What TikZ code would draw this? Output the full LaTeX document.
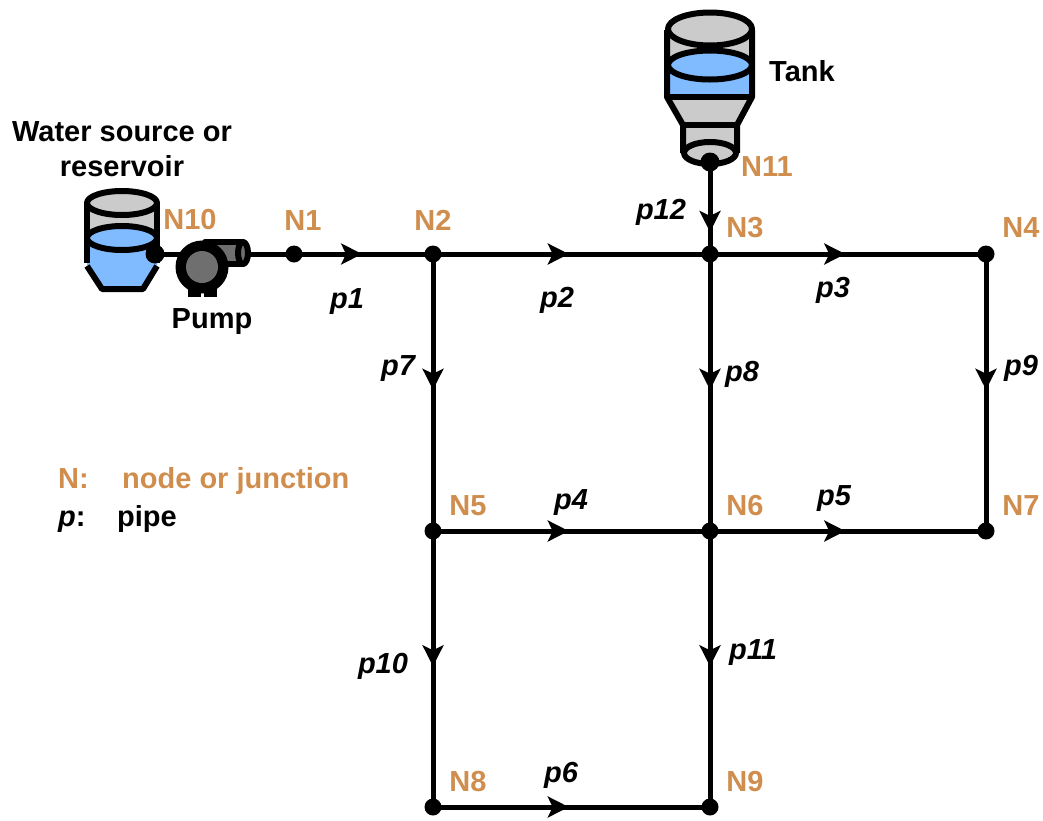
\documentclass[tikz,border=0pt]{standalone}
\usepackage{fontspec}
\setmainfont{Liberation Sans}
\usetikzlibrary{arrows.meta,decorations.markings}
\definecolor{nodetext}{HTML}{D08E4E}
\definecolor{water}{HTML}{80BBFF}
\definecolor{shell}{HTML}{CBCBCB}
\definecolor{casing}{HTML}{6F6F6F}
\tikzset{
  edge/.style={draw=black, line width=5pt},
  route/.style={edge, postaction={decorate}, decoration={markings,
    mark=at position #1 with {\arrow{Stealth[length=21pt,width=21pt,inset=5pt]}}}},
  pt/.style={circle, fill=black, inner sep=0pt, minimum size=17pt},
  vessel/.style={draw=black, line width=6pt, line join=round},
  lab/.style={text=nodetext, font=\fontsize{29}{34}\selectfont\bfseries},
  pipelab/.style={text=black, font=\fontsize{29}{34}\selectfont\bfseries\itshape},
  note/.style={text=black, font=\fontsize{29}{34}\selectfont\bfseries}
}
\begin{document}
\begin{tikzpicture}[x=1pt,y=-1pt]
  \useasboundingbox (0,0) rectangle (1043,820);

  % tank
  \fill[shell] (667,30) -- (667,97) -- (683,125) -- (683,153) -- (737,153) -- (737,125) -- (752,97) -- (752,30) -- cycle;
  \fill[water] (667,65) -- (667,97) -- (752,97) -- (752,65) -- cycle;
  \draw[vessel, fill=water] (710,65) ellipse[x radius=42, y radius=14.5];
  \draw[vessel, fill=shell] (710,29) ellipse[x radius=42, y radius=16.5];
  \draw[vessel] (667,30) -- (667,97) -- (683,125) -- (683,153);
  \draw[vessel] (752,30) -- (752,97) -- (737,125) -- (737,153);
  \draw[vessel] (667,97) -- (752,97);
  \draw[vessel] (683,125) -- (737,125);
  \draw[vessel, fill=shell] (710,153) ellipse[x radius=26, y radius=11];

  % reservoir
  \fill[shell] (87,203) rectangle (157,240);
  \fill[water] (87,238) -- (87,265) -- (102,289) -- (143,289) -- (157,265) -- (157,238) -- cycle;
  \draw[vessel, fill=water] (122,238) ellipse[x radius=35, y radius=12];
  \draw[vessel, fill=shell] (122,203) ellipse[x radius=35, y radius=12];
  \draw[vessel] (87,203) -- (87,263);
  \draw[vessel] (157,203) -- (157,263);
  \draw[vessel] (87,266) -- (102,289) -- (143,289) -- (157,266);

  % junctions
  \node[pt] (N1) at (294,254) {};
  \node[pt] (N2) at (433,254) {};
  \node[pt] (N3) at (710,254) {};
  \node[pt] (N4) at (986,254) {};
  \node[pt] (N5) at (433,531) {};
  \node[pt] (N6) at (710,531) {};
  \node[pt] (N7) at (986,531) {};
  \node[pt] (N8) at (433,807) {};
  \node[pt] (N9) at (710,807) {};
  \node[pt, minimum size=19pt] (N10) at (155,254) {};
  \node[pt, minimum size=19pt] (N11) at (710,162) {};

  % pipes
  \draw[edge] (N10.center) -- (N1.center);
  \draw[route=0.49] (N1.center) -- (N2.center);
  \draw[route=0.49] (N2.center) -- (N3.center);
  \draw[route=0.49] (N3.center) -- (N4.center);
  \draw[route=0.49] (N5.center) -- (N6.center);
  \draw[route=0.49] (N6.center) -- (N7.center);
  \draw[route=0.49] (N8.center) -- (N9.center);
  \draw[route=0.49] (N2.center) -- (N5.center);
  \draw[route=0.49] (N3.center) -- (N6.center);
  \draw[route=0.49] (N4.center) -- (N7.center);
  \draw[route=0.49] (N5.center) -- (N8.center);
  \draw[route=0.49] (N6.center) -- (N9.center);
  \draw[route=0.76] (N11.center) -- (N3.center);

  % pump
  \fill[black] (188,285) rectangle (201,297);
  \fill[black] (204,285) rectangle (217,297);
  \draw[vessel, fill=casing] (205,242) -- (243,242) -- (243,264) -- (205,264) -- cycle;
  \draw[vessel, fill=casing] (243,253) ellipse[x radius=5, y radius=11];
  \fill[black] (202,267) circle[radius=26.5];
  \fill[casing] (202,267) circle[radius=16];

  % node labels
  \node[lab] (labN1) at (303,221) {N1};
  \node[lab] (labN2) at (433,220) {N2};
  \node[lab] (labN3) at (745,228) {N3};
  \node[lab] (labN4) at (1021,228) {N4};
  \node[lab] (labN5) at (468,506) {N5};
  \node[lab] (labN6) at (745,506) {N6};
  \node[lab] (labN7) at (1021,506) {N7};
  \node[lab] (labN8) at (468,782) {N8};
  \node[lab] (labN9) at (745,782) {N9};
  \node[lab] (labN10) at (190,220) {N10};
  \node[lab] (labN11) at (767,167) {N11};

  % pipe labels
  \node[pipelab] (p1) at (347,302) {p1};
  \node[pipelab] (p2) at (557,300) {p2};
  \node[pipelab] (p3) at (833,290) {p3};
  \node[pipelab] (p4) at (571,503) {p4};
  \node[pipelab] (p5) at (834,499) {p5};
  \node[pipelab] (p6) at (561,775) {p6};
  \node[pipelab] (p7) at (398,369) {p7};
  \node[pipelab] (p8) at (742,374) {p8};
  \node[pipelab] (p9) at (1021,368) {p9};
  \node[pipelab] (p10) at (383,666) {p10};
  \node[pipelab] (p11) at (753,653) {p11};
  \node[pipelab] (p12) at (661,212) {p12};

  % equipment names
  \node[note] (source) at (122,132) {Water source or};
  \node[note] (reservoir) at (122,166) {reservoir};
  \node[note] (tank) at (802,71) {Tank};
  \node[note] (pump) at (212,322) {Pump};

  % legend
  \node[lab, anchor=base west, inner sep=0pt] (keyN) at (58,488) {N:};
  \node[lab, anchor=base west, inner sep=0pt] (keyNtext) at (122,488) {node or junction};
  \node[note, anchor=base west, inner sep=0pt] (keyp) at (58,526) {\textit{p}:};
  \node[note, anchor=base west, inner sep=0pt] (keyptext) at (117,526) {pipe};
\end{tikzpicture}
\end{document}
